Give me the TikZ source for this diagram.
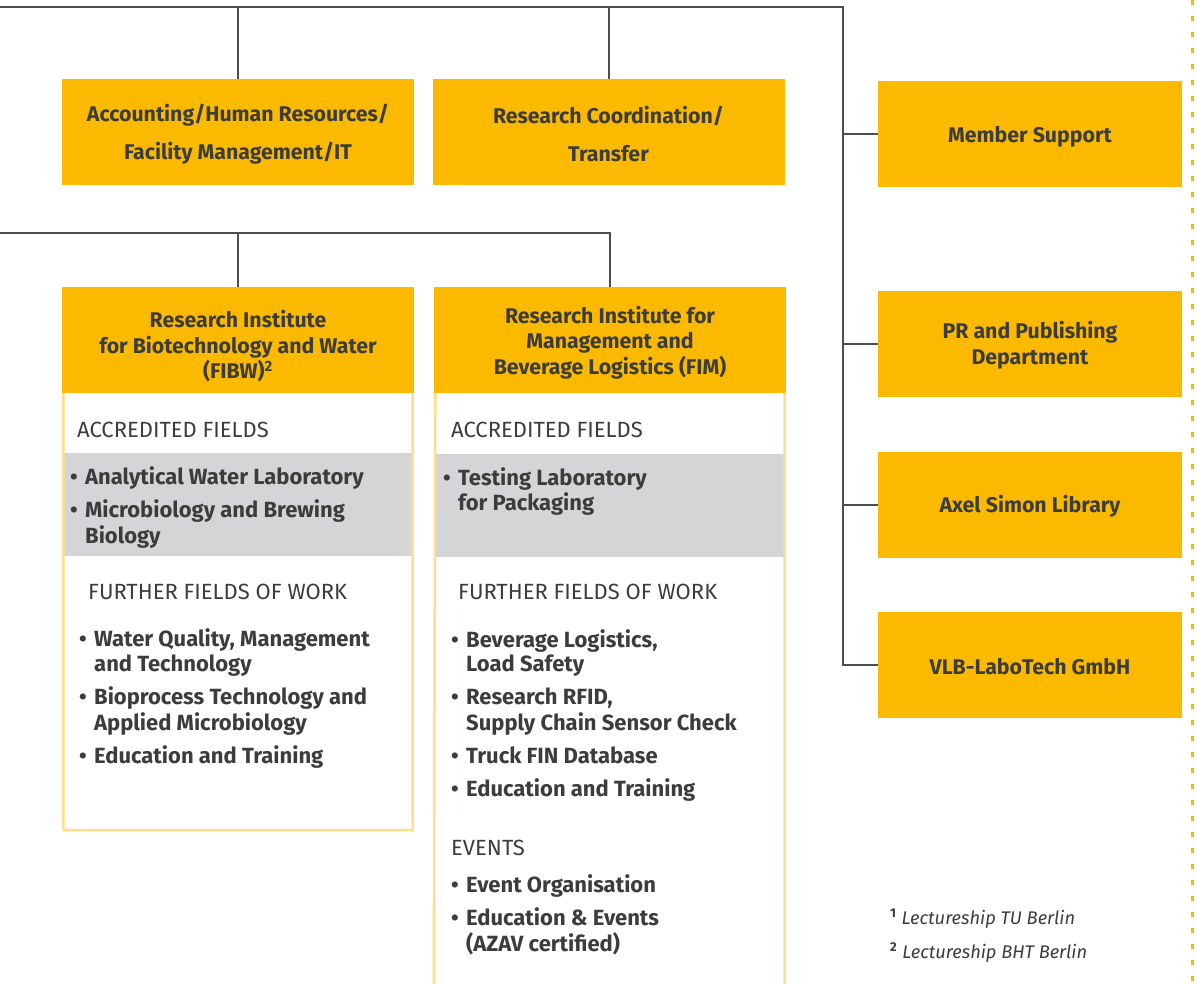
\documentclass[tikz,border=0pt]{standalone}
\usepackage{fontspec}
\setmainfont{Fira Sans}
\definecolor{vlbyellow}{HTML}{FBBA00}
\definecolor{paleyellow}{HTML}{FFDE8E}
\definecolor{bandgray}{HTML}{D4D5D7}
\definecolor{txt}{HTML}{3C3C3B}
\definecolor{linegray}{HTML}{4D4D4D}
\newcommand\bul{\llap{\textbullet\hspace{7.5pt}}}
\newcommand\lift[1]{\rule{0pt}{#1}}
\tikzset{
  conn/.style={draw=linegray, line width=2pt},
  headbox/.style={fill=vlbyellow, text=txt, font=\bfseries\fontsize{21.3}{25.5}\selectfont, align=center, minimum width=352pt, minimum height=106pt, inner sep=0pt},
  topbox/.style={headbox, font=\bfseries\fontsize{21.3}{38}\selectfont},
  sidebox/.style={headbox, minimum width=304pt},
  frame/.style={draw=paleyellow, line width=2.5pt},
  caption/.style={anchor=base west, text=txt, font=\fontsize{22}{26}\selectfont, inner sep=0pt},
  item/.style={anchor=base west, text=txt, font=\bfseries\fontsize{22}{26}\selectfont, inner sep=0pt},
  foot/.style={anchor=base west, text=txt, font=\itshape\fontsize{18.3}{22}\selectfont, inner sep=0pt}
}
\begin{document}
\begin{tikzpicture}[x=1pt, y=-1pt]
	\useasboundingbox (0,0) rectangle (1197,984);
	% boxes
	\node[topbox] (acct) at (238,132) {\lift{22pt}Accounting/Human Resources/\\Facility Management/IT};
	\node[topbox] (coord) at (608.5,132) {\lift{22pt}Research Coordination/\\Transfer};
	\node[sidebox] (member) at (1030,134) {\lift{22pt}Member Support};
	\node[sidebox] (pr) at (1030,344) {\lift{20pt}PR and Publishing\\Department};
	\node[sidebox] (library) at (1030,505) {\lift{20pt}Axel Simon Library};
	\node[sidebox] (labotech) at (1030,665) {\lift{20pt}VLB-LaboTech GmbH};
	\node[headbox] (fibw) at (238,340) {\lift{30pt}Research Institute\\for Biotechnology and Water\\(FIBW)\textsuperscript{2}};
	\node[headbox] (fim) at (610,340) {\lift{22pt}Research Institute for\\Management and\\Beverage Logistics (FIM)};

	\coordinate (topL) at (0,7);
	\coordinate (topR) at (843,7);
	\coordinate (midL) at (0,233);
	\coordinate (bot) at (0,984);

	% connectors
	\draw[conn] (topL) -- (topR) |- (labotech.west);
	\draw[conn] (acct.north) -- (acct.north |- topL);
	\draw[conn] (coord.north) -- (coord.north |- topL);
	\draw[conn] (member.west) -- (member.west -| topR);
	\draw[conn] (pr.west) -- (pr.west -| topR);
	\draw[conn] (library.west) -- (library.west -| topR);
	\draw[conn] (midL) -- (midL -| fim.north) -- (fim.north);
	\draw[conn] (fibw.north) -- (fibw.north |- midL);

	% institute bodies
	\fill[bandgray] (64,453) rectangle (412,556);
	\fill[bandgray] (436,454) rectangle (784,557);
	\draw[frame] (fibw.south west) ++(1.5,0) -- (63.5,830) -- (412.5,830) -- (412.5,393);
	\draw[frame] (fim.south west) ++(1.5,0) -- (fim.south west |- bot);
	\draw[frame] (fim.south east) ++(-1.5,0) -- (784.5,984);

	\node[caption] (fibwacc) at (77,437) {ACCREDITED FIELDS};
	\node[item] (fibwa1) at (85,484) {\bul Analytical Water Laboratory};
	\node[item] (fibwa2) at (85,517) {\bul Microbiology and Brewing};
	\node[item] (fibwa3) at (85,543) {Biology};
	\node[caption] (fibwfur) at (88,599) {FURTHER FIELDS OF WORK};
	\node[item] (fibwf1) at (94,646) {\bul Water Quality, Management};
	\node[item] (fibwf2) at (94,671) {and Technology};
	\node[item] (fibwf3) at (94,704) {\bul Bioprocess Technology and};
	\node[item] (fibwf4) at (94,730) {Applied Microbiology};
	\node[item] (fibwf5) at (94,763) {\bul Education and Training};

	\node[caption] (fimacc) at (451,437) {ACCREDITED FIELDS};
	\node[item] (fima1) at (458,485) {\bul Testing Laboratory};
	\node[item] (fima2) at (458,510) {for Packaging};
	\node[caption] (fimfur) at (458,599) {FURTHER FIELDS OF WORK};
	\node[item] (fimf1) at (466,647) {\bul Beverage Logistics,};
	\node[item] (fimf2) at (466,671) {Load Safety};
	\node[item] (fimf3) at (466,704) {\bul Research RFID,};
	\node[item] (fimf4) at (466,730) {Supply Chain Sensor Check};
	\node[item] (fimf5) at (466,763) {\bul Truck FIN Database};
	\node[item] (fimf6) at (466,796) {\bul Education and Training};
	\node[caption] (fimev) at (451,855) {EVENTS};
	\node[item] (fime1) at (466,892) {\bul Event Organisation};
	\node[item] (fime2) at (466,925) {\bul Education \& Events};
	\node[item] (fime3) at (466,951) {(AZAV certified)};

	% footnotes
	\node[foot] (fn1) at (890,924) {\textsuperscript{\upshape\bfseries 1}\hspace{5pt}Lectureship TU Berlin};
	\node[foot] (fn2) at (890,958) {\textsuperscript{\upshape\bfseries 2}\hspace{5pt}Lectureship BHT Berlin};

	% page edge
	\draw[vlbyellow, line width=3pt, dash pattern=on 5pt off 11pt] (1192,0) -- (1192,984);
\end{tikzpicture}
\end{document}
